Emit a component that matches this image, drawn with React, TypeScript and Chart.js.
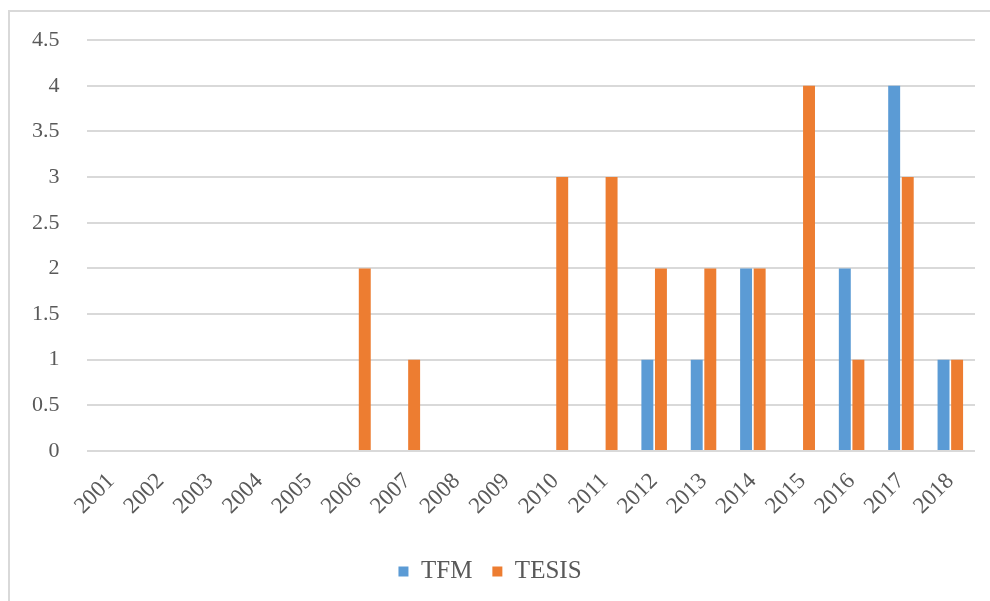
import React, { useEffect, useRef } from "react";
import { Chart, registerables } from "chart.js";

Chart.register(...registerables);

const categories = ["2001","2002","2003","2004","2005","2006","2007","2008","2009","2010","2011","2012","2013","2014","2015","2016","2017","2018"];
const tfmValues = [0,0,0,0,0,0,0,0,0,0,0,1,1,2,0,2,4,1];
const tesisValues = [0,0,0,0,0,2,1,0,0,3,3,2,2,2,4,1,3,1];

export default function App() {
  const ref = useRef<HTMLCanvasElement | null>(null);
  useEffect(() => {
    document.body.style.margin = "0";
    const ctx = ref.current!;
    const family = "'Liberation Serif', 'Times New Roman', serif";
    const font = { family, size: 22 };
    const chart = new Chart(ctx, {
      type: "bar",
      data: {
        labels: categories,
        datasets: [
          { label: "TFM", data: tfmValues, backgroundColor: "#5B9BD5", categoryPercentage: 0.55, barPercentage: 0.88 },
          { label: "TESIS", data: tesisValues, backgroundColor: "#ED7D31", categoryPercentage: 0.55, barPercentage: 0.88 },
        ],
      },
      options: {
        animation: false,
        responsive: false,
        maintainAspectRatio: false,
        layout: { padding: { left: 5, right: 15, top: 20, bottom: 7 } },
        plugins: {
          tooltip: { enabled: false },
          legend: {
            position: "bottom",
            labels: { font: { family, size: 25 }, color: "#595959", boxWidth: 10, boxHeight: 10, padding: 20 },
          },
        },
        scales: {
          x: {
            grid: { display: false },
            border: { display: false },
            ticks: { font: { family, size: 23 }, color: "#595959", maxRotation: 45, minRotation: 45, padding: 9 },
            afterFit: (scale: any) => {
              scale.height += 10;
            },
          },
          y: {
            min: 0,
            max: 4.5,
            grid: { color: "#D9D9D9", lineWidth: 2, drawTicks: false },
            border: { display: false },
            ticks: {
              stepSize: 0.5,
              font,
              color: "#595959",
              padding: 27,
              callback: (v: any) => String(Number(v)),
            },
          },
        },
      },
    });
    return () => chart.destroy();
  }, []);
  return (
    <div style={{ position: "relative", width: 990, height: 601, background: "#fff", overflow: "hidden" }}>
      <div style={{ position: "absolute", left: 8, top: 10, width: 1000, height: 700, borderLeft: "2px solid #D9D9D9", borderTop: "2px solid #D9D9D9" }} />
      <canvas ref={ref} width={990} height={601} style={{ position: "absolute", left: 0, top: 0 }} />
    </div>
  );
}
